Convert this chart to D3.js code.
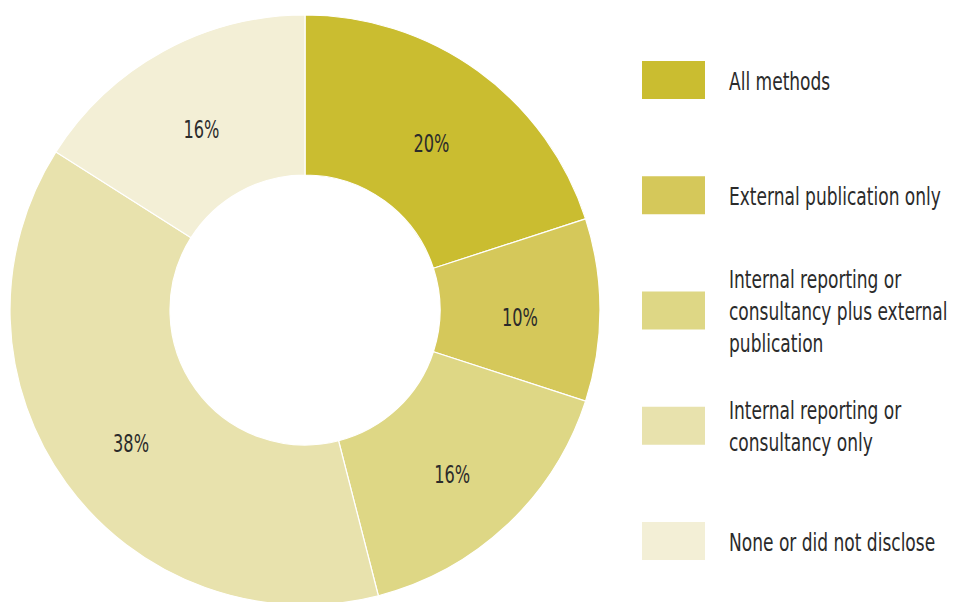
<!DOCTYPE html>
<html>
<head>
<meta charset="utf-8">
<script src="https://cdn.jsdelivr.net/npm/d3@7"></script>
<style>
  html, body { margin: 0; padding: 0; background: #fff; }
  svg { display: block; }
  text { font-family: "DejaVu Sans", sans-serif; font-stretch: condensed; fill: #2b2b2b; }
</style>
</head>
<body>
<svg id="chart" width="971" height="602"></svg>
<script>
// Share of respondents by method of sharing results
const categories = [
  "All methods",
  "External publication only",
  "Internal reporting or consultancy plus external publication",
  "Internal reporting or consultancy only",
  "None or did not disclose"
];
const values = [20, 10, 16, 38, 16];
const colors = ["#cabd30", "#d5c85a", "#ded785", "#e8e2ad", "#f3efd6"];
const legendLines = [
  ["All methods"],
  ["External publication only"],
  ["Internal reporting or", "consultancy plus external", "publication"],
  ["Internal reporting or", "consultancy only"],
  ["None or did not disclose"]
];

const svg = d3.select("#chart");
const cx = 305, cy = 310, outerR = 295, innerR = 135;
// horizontal squeeze for the condensed lettering
const narrowPct = 0.72;
const narrowLegend = 0.79;

const data = categories.map((c, i) => ({ name: c, value: values[i], color: colors[i], lines: legendLines[i] }));

const pie = d3.pie().value(d => d.value).sort(null);
const arc = d3.arc().innerRadius(innerR).outerRadius(outerR);
const labelArc = d3.arc().innerRadius(215).outerRadius(215);

const g = svg.append("g").attr("transform", `translate(${cx},${cy})`);
const arcs = pie(data);

g.selectAll("path.slice")
  .data(arcs)
  .join("path")
  .attr("class", "slice")
  .attr("d", arc)
  .attr("fill", d => d.data.color)
  .attr("stroke", "#fff")
  .attr("stroke-width", 1.2);

g.selectAll("text.pct")
  .data(arcs)
  .join("text")
  .attr("class", "pct")
  .attr("transform", d => {
    const [x, y] = labelArc.centroid(d);
    return `translate(${x},${y + 7}) scale(${narrowPct},1)`;
  })
  .attr("text-anchor", "middle")
  .attr("dy", "0.36em")
  .style("font-size", "25px")
  .text(d => d.data.value + "%");

// Legend
const legendY = d3.scalePoint().domain(categories).range([80, 541]);
const legend = svg.append("g");
const items = legend.selectAll("g.item")
  .data(data)
  .join("g")
  .attr("class", "item")
  .attr("transform", d => `translate(642,${legendY(d.name)})`);

items.append("rect")
  .attr("x", 0)
  .attr("y", -19)
  .attr("width", 63)
  .attr("height", 38)
  .attr("fill", d => d.color);

const lineH = 32;
items.append("text")
  .attr("transform", `translate(87,1) scale(${narrowLegend},1)`)
  .style("font-size", "24px")
  .each(function(d) {
    const n = d.lines.length;
    const t = d3.select(this);
    d.lines.forEach((ln, j) => {
      t.append("tspan")
        .attr("x", 0)
        .attr("y", (j - (n - 1) / 2) * lineH)
        .attr("dy", "0.36em")
        .text(ln);
    });
  });
</script>
</body>
</html>
